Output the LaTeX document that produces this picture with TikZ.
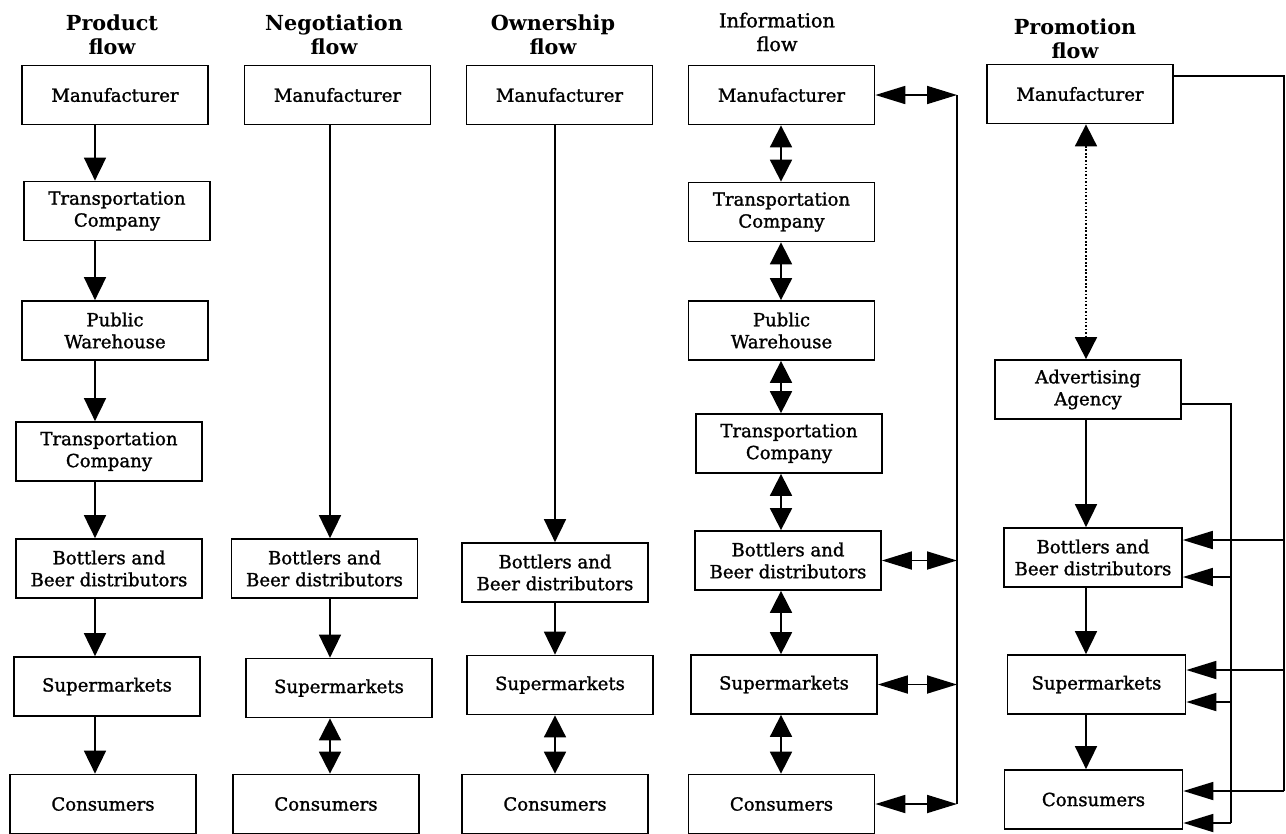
\documentclass[tikz,border=0pt]{standalone}
\usepackage{fontspec}
\setmainfont{DejaVu Serif}
\newfontfamily\boxfont[BoldFont={DejaVu Serif}, BoldFeatures={FakeBold=1.3}]{DejaVu Serif}
\usetikzlibrary{arrows.meta}
\tikzstyle{process} = [rectangle, minimum width=3.72cm, minimum height=1.18cm, inner sep=2pt, align=center, draw=black, line width=1pt, font=\fontsize{10.3}{12.5}\boxfont\bfseries]
\tikzstyle{narrow} = [process, minimum width=3.56cm]
\tikzstyle{title} = [align=center, font=\fontsize{11.8}{13.8}\selectfont\bfseries]
\tikzstyle{arrow} = [line width=1pt, -{Triangle[length=0.46cm,width=0.44cm]}]
\tikzstyle{twoway} = [line width=1pt, {Triangle[length=0.44cm,width=0.44cm]}-{Triangle[length=0.44cm,width=0.44cm]}]
\tikzstyle{sideway} = [line width=1pt, {Triangle[length=0.6cm,width=0.36cm]}-{Triangle[length=0.6cm,width=0.36cm]}]
\tikzstyle{feed} = [line width=1pt, -{Triangle[length=0.6cm,width=0.36cm]}]
\tikzstyle{link} = [line width=1pt]

\begin{document}
\begin{tikzpicture}[x=0.02cm, y=-0.02cm]
        \useasboundingbox (0,0) rectangle (1286,833);

        % Titles
        \node (pdtitle) [title] at (112,35) {Product\\flow};
        \node (ngtitle) [title] at (334,35) {Negotiation\\flow};
        \node (owtitle) [title] at (553,35) {Ownership\\flow};
        \node (intitle) [title, font=\fontsize{11}{13.5}\boxfont\bfseries] at (777,32) {Information\\flow};
        \node (pmtitle) [title] at (1075,39) {Promotion\\flow};

        % Product flow
        \node (pdman) [process] at (115,95) {Manufacturer};
        \node (pdtra1) [process] at (117,211) {Transportation\\Company};
        \node (pdware) [process] at (115,330.5) {Public\\Warehouse};
        \node (pdtra2) [process] at (109,451.5) {Transportation\\Company};
        \node (pdbot) [process] at (109,568.5) {Bottlers and\\Beer distributors};
        \node (pdsup) [process] at (107,686.5) {Supermarkets};
        \node (pdcon) [process] at (103,804) {Consumers};

        % Negotiation flow
        \node (ngman) [process] at (337.5,95) {Manufacturer};
        \node (ngbot) [process] at (324.5,568.5) {Bottlers and\\Beer distributors};
        \node (ngsup) [process] at (339,688) {Supermarkets};
        \node (ngcon) [process] at (326,804) {Consumers};

        % Ownership flow
        \node (owman) [process] at (559.5,95) {Manufacturer};
        \node (owbot) [process] at (555,572.5) {Bottlers and\\Beer distributors};
        \node (owsup) [process] at (560,685) {Supermarkets};
        \node (owcon) [process] at (555,804) {Consumers};

        % Information flow
        \node (inman) [process] at (781.5,95) {Manufacturer};
        \node (intra1) [process] at (781.5,212) {Transportation\\Company};
        \node (inware) [process] at (781.5,330.5) {Public\\Warehouse};
        \node (intra2) [process] at (789,443.5) {Transportation\\Company};
        \node (inbot) [process] at (788,560.5) {Bottlers and\\Beer distributors};
        \node (insup) [process] at (784,684.5) {Supermarkets};
        \node (incon) [process] at (781.5,804) {Consumers};

        % Promotion flow
        \node (pmman) [process] at (1080,94) {Manufacturer};
        \node (pmadv) [process] at (1088,389.5) {Advertising\\Agency};
        \node (pmbot) [narrow] at (1093,557.5) {Bottlers and\\Beer distributors};
        \node (pmsup) [narrow] at (1096.5,684.5) {Supermarkets};
        \node (pmcon) [narrow] at (1093.5,799.5) {Consumers};

        % Axes and corners
        \coordinate (pdaxis) at (95,0);
        \coordinate (ngaxis) at (330,0);
        \coordinate (owaxis) at (555,0);
        \coordinate (inaxis) at (781,0);
        \coordinate (pmaxis) at (1086,0);
        \coordinate (inbus) at (957,0);
        \coordinate (outtop) at (1284,76);
        \coordinate (outbot) at (1284,791);
        \coordinate (midtop) at (1231,404);
        \coordinate (midbot) at (1231,823);

        % Arrows
        \foreach \a/\b in {pdman/pdtra1, pdtra1/pdware, pdware/pdtra2, pdtra2/pdbot, pdbot/pdsup, pdsup/pdcon}
            \draw [arrow] (\a.south -| pdaxis) -- (\b.north -| pdaxis);

        \draw [arrow] (ngman.south -| ngaxis) -- (ngbot.north -| ngaxis);
        \draw [arrow] (ngbot.south -| ngaxis) -- (ngsup.north -| ngaxis);
        \draw [twoway] (ngsup.south -| ngaxis) -- (ngcon.north -| ngaxis);

        \draw [arrow] (owman.south -| owaxis) -- (owbot.north -| owaxis);
        \draw [arrow] (owbot.south -| owaxis) -- (owsup.north -| owaxis);
        \draw [twoway] (owsup.south -| owaxis) -- (owcon.north -| owaxis);

        \foreach \a/\b in {inman/intra1, intra1/inware, inware/intra2, intra2/inbot, inbot/insup, insup/incon}
            \draw [twoway] (\a.south -| inaxis) -- (\b.north -| inaxis);
        \draw [link] (inman.east -| inbus) -- (incon.east -| inbus);
        \foreach \a in {inman, inbot, insup, incon}
            \draw [sideway] (\a.east) -- (\a.east -| inbus);

        \draw [twoway, densely dotted] (pmman.south -| pmaxis) -- (pmadv.north -| pmaxis);
        \draw [arrow] (pmadv.south -| pmaxis) -- (pmbot.north -| pmaxis);
        \draw [arrow] (pmbot.south -| pmaxis) -- (pmsup.north -| pmaxis);
        \draw [arrow] (pmsup.south -| pmaxis) -- (pmcon.north -| pmaxis);

        \draw [link] (pmman.east |- outtop) -- (outtop) -- (outbot);
        \draw [link] (pmadv.east |- midtop) -- (midtop) -- (midbot);
        \foreach \a/\y in {pmbot/540, pmsup/670, pmcon/791}
            \draw [feed] (outtop |- 0,\y) -- (\a.east |- 0,\y);
        \foreach \a/\y in {pmbot/577, pmsup/702, pmcon/823}
            \draw [feed] (midtop |- 0,\y) -- (\a.east |- 0,\y);

\end{tikzpicture}
\end{document}
